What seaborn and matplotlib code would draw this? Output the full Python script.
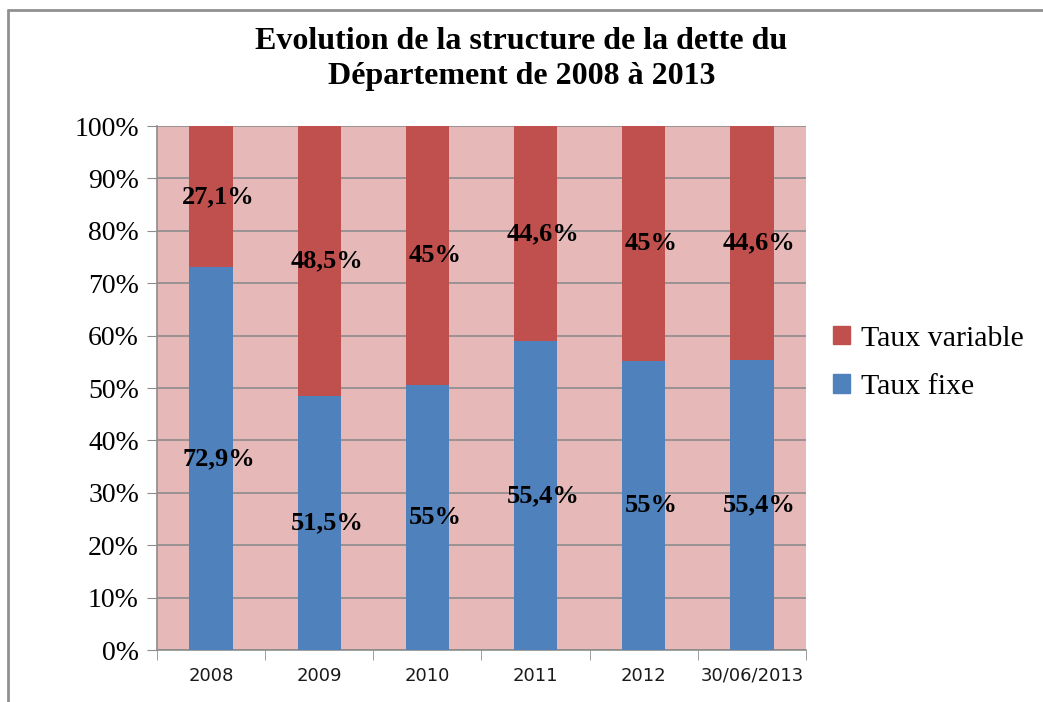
import numpy as np
import pandas as pd
import seaborn as sns
import matplotlib.pyplot as plt
from matplotlib.lines import Line2D
from matplotlib.patches import Patch

# data
periods = ["2008", "2009", "2010", "2011", "2012", "30/06/2013"]
fixe_height = [73.0, 48.5, 50.5, 59.0, 55.1, 55.3]      # drawn height of blue segment
fixe_labels = ["72,9%", "51,5%", "55%", "55,4%", "55%", "55,4%"]
variable_labels = ["27,1%", "48,5%", "45%", "44,6%", "45%", "44,6%"]
total = [100, 100, 100, 100, 100, 100]

blue = "#4F81BD"
red = "#C0504D"
bg = "#E6B9B8"
grid = "#8C8C8C"

df = pd.DataFrame({"periode": periods, "fixe": fixe_height, "total": total})

sns.set_style("white")
plt.rcParams["font.family"] = ["Liberation Serif", "DejaVu Serif"]
plt.rcParams["text.color"] = "black"
plt.rcParams["xtick.color"] = "black"
plt.rcParams["ytick.color"] = "black"

fig = plt.figure(figsize=(10.43, 7.02), dpi=100)
ax = fig.add_axes([157 / 1043, 52 / 702, (806 - 157) / 1043, (650 - 126) / 702])
ax.set_facecolor(bg)

sns.barplot(data=df, x="periode", y="total", color=red, width=0.4,
            saturation=1, linewidth=0, ax=ax, zorder=3)
sns.barplot(data=df, x="periode", y="fixe", color=blue, width=0.4,
            saturation=1, linewidth=0, ax=ax, zorder=3)

# labels centred in each segment (Excel puts them a bit to the right)
for i, (h, lf, lv) in enumerate(zip(fixe_height, fixe_labels, variable_labels)):
    ax.text(i + 0.07, h / 2, lf, ha="center", va="center", fontsize=19,
            fontweight="bold", zorder=5)
    ax.text(i + 0.07, (h + 100) / 2, lv, ha="center", va="center", fontsize=19,
            fontweight="bold", zorder=5)

ax.set_ylim(0, 100)
ax.set_xlim(-0.5, len(periods) - 0.5)
ax.set_yticks(np.arange(0, 101, 10))
ax.set_yticklabels([f"{v}%" for v in range(0, 101, 10)], fontsize=20)
ax.yaxis.grid(True, color=grid, linewidth=1.2, zorder=1)
ax.set_axisbelow(True)
ax.tick_params(axis="y", left=True, length=7, color=grid, pad=6)

ax.set_xticks(range(len(periods)))
ax.set_xticklabels(periods, fontsize=13, family="DejaVu Sans", color="#1a1a1a")
ax.set_xticks(np.arange(-0.5, len(periods), 1), minor=True)
ax.tick_params(axis="x", which="major", length=0, pad=12)
ax.tick_params(axis="x", which="minor", bottom=True, length=7, color=grid)
ax.set_xlabel("")
ax.set_ylabel("")

for s in ["top", "right"]:
    ax.spines[s].set_visible(False)
for s in ["left", "bottom"]:
    ax.spines[s].set_color(grid)
    ax.spines[s].set_linewidth(1.2)

fig.text(0.5, 0.962, "Evolution de la structure de la dette du\nDépartement de 2008 à 2013",
         ha="center", va="top", fontsize=23, fontweight="bold", linespacing=1.3)

handles = [Patch(color=red, label="Taux variable"), Patch(color=blue, label="Taux fixe")]
fig.legend(handles=handles, loc="center left", bbox_to_anchor=(833 / 1043, 0.483),
           frameon=False, fontsize=21.5, handlelength=0.58, handleheight=0.58,
           handletextpad=0.35, labelspacing=0.75, borderpad=0, borderaxespad=0)

# outer chart border
fig.add_artist(Line2D([8 / 1043, 8 / 1043], [0, 1 - 10 / 702], color="#909090",
                      linewidth=2, transform=fig.transFigure))
fig.add_artist(Line2D([8 / 1043, 1], [1 - 10 / 702, 1 - 10 / 702], color="#909090",
                      linewidth=2, transform=fig.transFigure))

fig.savefig("out.png", dpi=100, facecolor="white")
